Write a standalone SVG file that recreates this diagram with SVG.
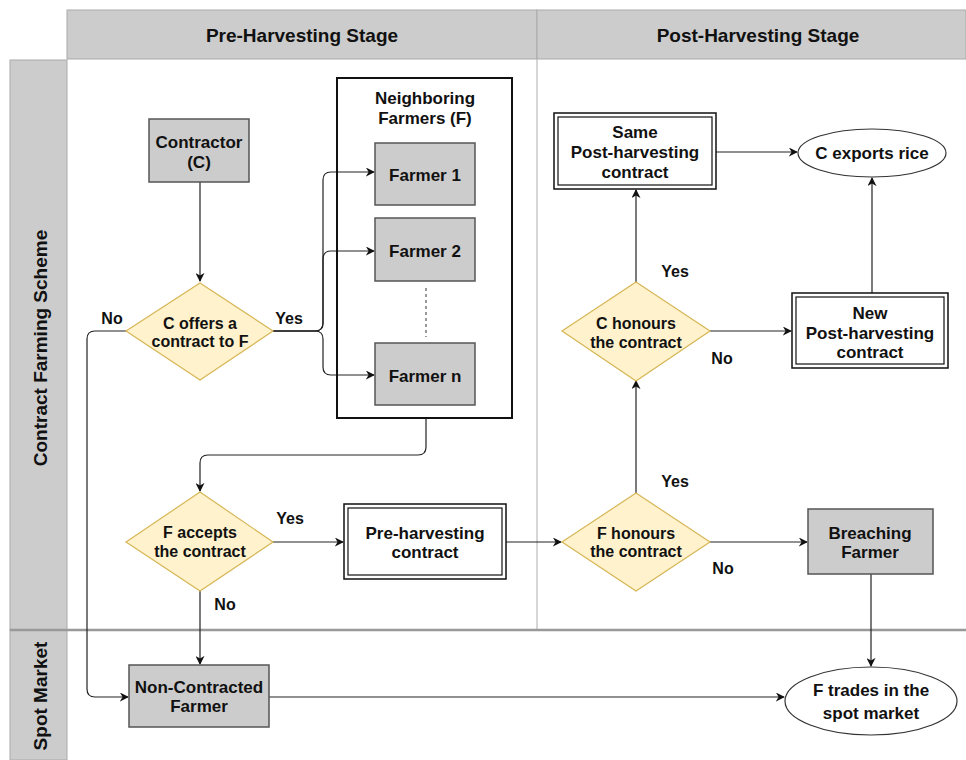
<svg xmlns="http://www.w3.org/2000/svg" width="966" height="760" viewBox="0 0 966 760">
<style>
text{font-family:"Liberation Sans",Arial,sans-serif;font-weight:bold;fill:#111;text-anchor:middle}
.hd{font-size:19px}
.t{font-size:17px}
.d{font-size:16px}
.lb{font-size:16px}
.gray{fill:#cccccc;stroke:#555;stroke-width:1.5}
.dia{fill:#fff2cc;stroke:#d6b656;stroke-width:1.2}
.dbl{fill:#fff;stroke:#111;stroke-width:1.5}
.ell{fill:#fff;stroke:#333;stroke-width:1.2}
.c{fill:none;stroke:#222;stroke-width:1.2}
</style>
<defs>
<marker id="a" viewBox="0 0 10 10" refX="9" refY="5" markerWidth="9" markerHeight="9" markerUnits="userSpaceOnUse" orient="auto">
<path d="M0,0 L10,5 L0,10 L3,5 Z" fill="#111"/>
</marker>
</defs>
<rect width="966" height="760" fill="#fff"/>
<g id="swimlanes">
<rect x="67" y="10" width="470" height="49" fill="#cccccc" stroke="#aaa"/>
<rect x="537" y="10" width="429" height="49" fill="#cccccc" stroke="#aaa"/>
<text class="hd" x="302" y="42">Pre-Harvesting Stage</text>
<text class="hd" x="758" y="42">Post-Harvesting Stage</text>
<rect x="10" y="60" width="57" height="570" fill="#cccccc" stroke="#aaa"/>
<rect x="10" y="630" width="57" height="130" fill="#cccccc" stroke="#aaa"/>
<text class="hd" transform="translate(47,348) rotate(-90)">Contract Farming Scheme</text>
<text class="hd" transform="translate(47,696) rotate(-90)">Spot Market</text>
<line x1="537" y1="59" x2="537" y2="629" stroke="#bbb" stroke-width="1.2"/>
<line x1="10" y1="630" x2="966" y2="630" stroke="#999" stroke-width="2.5"/>
</g>
<g id="connectors">
<path class="c" d="M200,182 V281" marker-end="url(#a)"/>
<path class="c" d="M273,331 H315 Q323,331 323,323 V180 Q323,172 331,172 H374" marker-end="url(#a)"/>
<path class="c" d="M273,331 H315 Q323,331 323,323 V259 Q323,251 331,251 H374" marker-end="url(#a)"/>
<path class="c" d="M273,331 H315 Q323,331 323,339 V367 Q323,375 331,375 H374" marker-end="url(#a)"/>
<path class="c" d="M126,331 H95 Q87,331 87,339 V689 Q87,697 95,697 H128" marker-end="url(#a)"/>
<path class="c" d="M426,418 V447 Q426,455 418,455 H208 Q200,455 200,463 V491" marker-end="url(#a)"/>
<path class="c" d="M273,542 H343" marker-end="url(#a)"/>
<path class="c" d="M200,591 V664" marker-end="url(#a)"/>
<path class="c" d="M506,542 H561" marker-end="url(#a)"/>
<path class="c" d="M636,493 V381" marker-end="url(#a)"/>
<path class="c" d="M636,282 V190" marker-end="url(#a)"/>
<path class="c" d="M716,152 H797" marker-end="url(#a)"/>
<path class="c" d="M710,331 H791" marker-end="url(#a)"/>
<path class="c" d="M872,293 V178" marker-end="url(#a)"/>
<path class="c" d="M710,542 H807" marker-end="url(#a)"/>
<path class="c" d="M871,574 V666" marker-end="url(#a)"/>
<path class="c" d="M269,697 H784" marker-end="url(#a)"/>
<line x1="426" y1="288" x2="426" y2="337" stroke="#333" stroke-width="1" stroke-dasharray="3,3"/>
<text class="lb" x="112" y="324">No</text>
<text class="lb" x="289" y="324">Yes</text>
<text class="lb" x="290" y="524">Yes</text>
<text class="lb" x="225" y="610">No</text>
<text class="lb" x="675" y="277">Yes</text>
<text class="lb" x="722" y="364">No</text>
<text class="lb" x="675" y="487">Yes</text>
<text class="lb" x="723" y="574">No</text>
</g>
<g id="contractor">
<rect class="gray" x="149" y="119" width="100" height="63"/>
<text class="t" x="199" y="148">Contractor</text>
<text class="t" x="199" y="168">(C)</text>
</g>
<g id="c-offers">
<polygon class="dia" points="200,283 273,331 200,380 126,331"/>
<text class="d" x="200" y="329">C offers a</text>
<text class="d" x="200" y="347">contract to F</text>
</g>
<g id="neighboring-farmers">
<rect x="337" y="78" width="175" height="340" fill="none" stroke="#111" stroke-width="2"/>
<text class="t" x="425" y="104">Neighboring</text>
<text class="t" x="425" y="124">Farmers (F)</text>
</g>
<g id="farmer1">
<rect class="gray" x="375" y="143" width="100" height="62"/>
<text class="t" x="425" y="181">Farmer 1</text>
</g>
<g id="farmer2">
<rect class="gray" x="375" y="218" width="100" height="63"/>
<text class="t" x="425" y="257">Farmer 2</text>
</g>
<g id="farmern">
<rect class="gray" x="375" y="343" width="100" height="62"/>
<text class="t" x="425" y="382">Farmer n</text>
</g>
<g id="f-accepts">
<polygon class="dia" points="200,492 273,542 200,591 126,542"/>
<text class="d" x="200" y="538">F accepts</text>
<text class="d" x="200" y="557">the contract</text>
</g>
<g id="pre-harvesting-contract">
<rect class="dbl" x="344" y="504" width="162" height="75"/>
<rect x="348" y="508" width="154" height="67" fill="none" stroke="#111" stroke-width="1.2"/>
<text class="t" x="425" y="539">Pre-harvesting</text>
<text class="t" x="425" y="558">contract</text>
</g>
<g id="non-contracted">
<rect class="gray" x="129" y="665" width="140" height="62"/>
<text class="t" x="199" y="693">Non-Contracted</text>
<text class="t" x="199" y="712">Farmer</text>
</g>
<g id="f-honours">
<polygon class="dia" points="636,493 710,542 636,591 562,542"/>
<text class="d" x="636" y="539">F honours</text>
<text class="d" x="636" y="557">the contract</text>
</g>
<g id="c-honours">
<polygon class="dia" points="636,282 710,331 636,381 562,331"/>
<text class="d" x="636" y="329">C honours</text>
<text class="d" x="636" y="348">the contract</text>
</g>
<g id="same-post">
<rect class="dbl" x="554" y="113" width="162" height="76"/>
<rect x="558" y="117" width="154" height="68" fill="none" stroke="#111" stroke-width="1.2"/>
<text class="t" x="635" y="138">Same</text>
<text class="t" x="635" y="158">Post-harvesting</text>
<text class="t" x="635" y="178">contract</text>
</g>
<g id="c-exports">
<ellipse class="ell" cx="872" cy="153" rx="74" ry="24"/>
<text class="t" x="872" y="159">C exports rice</text>
</g>
<g id="new-post">
<rect class="dbl" x="792" y="293" width="156" height="75"/>
<rect x="796" y="297" width="148" height="67" fill="none" stroke="#111" stroke-width="1.2"/>
<text class="t" x="870" y="319">New</text>
<text class="t" x="870" y="339">Post-harvesting</text>
<text class="t" x="870" y="358">contract</text>
</g>
<g id="breaching">
<rect class="gray" x="808" y="509" width="125" height="65"/>
<text class="t" x="870" y="539">Breaching</text>
<text class="t" x="870" y="558">Farmer</text>
</g>
<g id="f-trades">
<ellipse class="ell" cx="871" cy="701" rx="86" ry="34"/>
<text class="t" x="871" y="696">F trades in the</text>
<text class="t" x="871" y="719">spot market</text>
</g>
</svg>
